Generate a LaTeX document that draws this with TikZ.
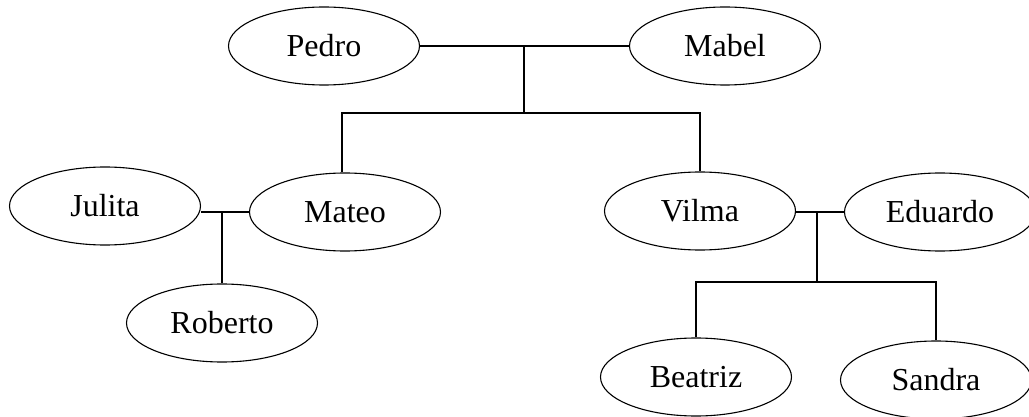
\documentclass[tikz,border=0pt]{standalone}
\usepackage{fontspec}
\setmainfont{Liberation Serif}
\usetikzlibrary{shapes.geometric}
\tikzset{
  person/.style={draw, ellipse, line width=1.1pt, minimum width=191pt, minimum height=78pt, inner sep=0pt, font=\fontsize{32}{36}\selectfont},
  link/.style={line width=1.1pt}
}
\begin{document}
\begin{tikzpicture}[x=1pt,y=-1pt]
\clip (0,0) rectangle (1029,417);
\useasboundingbox (0,0) rectangle (1029,417);
\node[person] (Pedro) at (324,46) {Pedro};
\node[person] (Mabel) at (725,46) {Mabel};
\node[person] (Julita) at (105,206) {Julita};
\node[person] (Mateo) at (345,212) {Mateo};
\node[person] (Roberto) at (222,323) {Roberto};
\node[person] (Vilma) at (700,211) {Vilma};
\node[person] (Eduardo) at (940,212) {Eduardo};
\node[person] (Beatriz) at (696,377) {Beatriz};
\node[person] (Sandra) at (936,380) {Sandra};
% Pedro + Mabel
\coordinate (pm) at (524,46);
\coordinate (pmk) at (524,113);
\draw[link] (Pedro.east) -- (Mabel.west);
\draw[link] (pm) -- (pmk);
\draw[link] (pmk) -| (Mateo.north -| 342,0);
\draw[link] (pmk) -| (Vilma.north);
% Julita + Mateo
\coordinate (jm) at (222,212);
\draw[link] (Julita.east |- jm) -- (Mateo.west);
\draw[link] (jm) -- (Roberto.north);
% Vilma + Eduardo
\coordinate (ve) at (817,212);
\coordinate (vek) at (817,282);
\draw[link] (Vilma.east |- ve) -- (Eduardo.west);
\draw[link] (ve) -- (vek);
\draw[link] (vek) -| (Beatriz.north);
\draw[link] (vek) -| (Sandra.north);
\end{tikzpicture}
\end{document}
